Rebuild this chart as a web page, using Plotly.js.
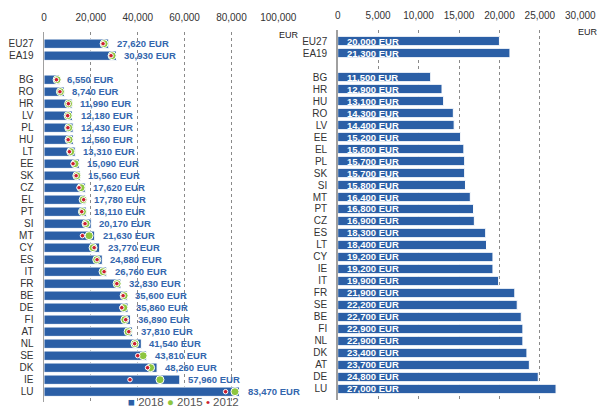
<!DOCTYPE html>
<html>
<head>
<meta charset="utf-8">
<script src="https://cdn.plot.ly/plotly-3.0.1.min.js"></script>
<style>html,body{margin:0;padding:0;background:#fff;}#chart{width:597px;height:410px;}</style>
</head>
<body>
<div id="chart"></div>
<script>
// ---- Left panel data ----
var leftCats = ['EU27','EA19','BG','RO','HR','LV','PL','HU','LT','EE','SK','CZ','EL','PT','SI','MT','CY','ES','IT','FR','BE','DE','FI','AT','NL','SE','DK','IE','LU'];
var left2018 = [27620,30930,6550,8740,11990,12180,12430,12560,13310,15090,15560,17620,17780,18110,20170,21630,23770,24880,26760,32830,35600,35860,36890,37810,41540,43810,48260,57960,83470];
var left2015 = [25650,29060,5600,7000,10500,10300,10550,10700,11400,13250,14000,15800,16700,16400,17950,19250,20950,22500,25200,31200,34200,34050,34500,35900,38800,42300,45500,49500,81500];
var left2012 = [25200,28600,5300,6800,10400,10100,10200,10300,10850,12400,13700,14950,16950,16100,17500,16400,21400,22650,25650,31100,33750,33200,34900,36200,38700,40000,44200,36700,77500];
var leftTicks = [0,20000,40000,60000,80000,100000];

// ---- Right panel data ----
var rightCats = ['EU27','EA19','BG','HR','HU','RO','LV','EE','EL','PL','SK','SI','MT','PT','CZ','ES','LT','CY','IE','IT','FR','SE','BE','FI','NL','DK','AT','DE','LU'];
var rightVals = [20000,21300,11500,12900,13100,14300,14400,15200,15600,15700,15700,15800,16400,16800,16900,18300,18400,19200,19200,19900,21900,22200,22700,22900,22900,23400,23700,24800,27000];
var rightTicks = [0,5000,10000,15000,20000,25000,30000];

var legendNames = ['2018','2015','2012'];
var unit = 'EUR';

// ---- styling ----
var BLUE = '#2b5fa6', LBLUE = '#3366ad', GREEN = '#8dc63f', RED = '#cc1f2f';
var FONT = 'Liberation Sans, Arial, sans-serif';

function pos(cats){ return cats.map(function(c,i){ return i < 2 ? i : i + 1; }); }
function fmt(v){ return v.toLocaleString('en-US') + ' ' + unit; }

var yL = pos(leftCats), yR = pos(rightCats);

var traces = [
  {type:'bar', orientation:'h', x:left2018, y:yL, xaxis:'x', yaxis:'y', width:0.78,
   marker:{color:BLUE, line:{color:'#ffffff', width:1}}, name:legendNames[0], showlegend:false},
  {type:'scatter', mode:'markers', x:left2015, y:yL, xaxis:'x', yaxis:'y',
   marker:{color:GREEN, size:8, line:{color:'#ffffff', width:1}}, name:legendNames[1], showlegend:false},
  {type:'scatter', mode:'markers', x:left2012, y:yL, xaxis:'x', yaxis:'y',
   marker:{color:RED, size:4.5, line:{color:'#ffffff', width:1}}, name:legendNames[2], showlegend:false},
  {type:'bar', orientation:'h', x:rightVals, y:yR, xaxis:'x2', yaxis:'y2', width:0.78,
   marker:{color:BLUE, line:{color:'#ffffff', width:1}}, showlegend:false}
];

var annotations = [];
left2018.forEach(function(v,i){
  annotations.push({x:v, y:yL[i], xref:'x', yref:'y', text:fmt(v), showarrow:false,
    xanchor:'left', yanchor:'middle', xshift:6, font:{family:FONT, size:9.5, color:LBLUE, weight:'bold'}});
});
rightVals.forEach(function(v,i){
  annotations.push({x:0, y:yR[i], xref:'x2', yref:'y2', text:fmt(v), showarrow:false,
    xanchor:'left', yanchor:'middle', xshift:7, font:{family:FONT, size:9.5, color:'#ffffff', weight:'bold'}});
});
annotations.push({x:leftTicks[leftTicks.length-1], y:0.915, xref:'x', yref:'paper', text:unit, showarrow:false,
  xanchor:'left', yanchor:'middle', xshift:-1, font:{family:FONT, size:9, color:'#222'}});
annotations.push({x:rightTicks[rightTicks.length-1], y:0.921, xref:'x2', yref:'paper', text:unit, showarrow:false,
  xanchor:'left', yanchor:'middle', xshift:-4, font:{family:FONT, size:9, color:'#222'}});
annotations.push({x:0.308, y:0.001, xref:'paper', yref:'paper', showarrow:false, xanchor:'center', yanchor:'bottom',
  text:'<span style="color:'+BLUE+'">■</span> '+legendNames[0]+' <span style="color:'+GREEN+'">●</span> '+legendNames[1]+' <span style="color:'+RED+'">•</span> '+legendNames[2],
  font:{family:FONT, size:11.5, color:'#555'}});

var xBase = {side:'top', showgrid:true, gridcolor:'#8a8a8a', griddash:'3px,3px', gridwidth:1,
  zeroline:false, showline:false, ticks:'outside', ticklen:6, tickcolor:'rgba(0,0,0,0)',
  tickfont:{family:FONT, size:10, color:'#333'}, tickformat:',d', fixedrange:true};
var yBase = {autorange:false, range:[29.9,-0.95], showgrid:false, zeroline:false, showline:true,
  linecolor:'#a0a0a0', linewidth:1.5, ticks:'outside', ticklen:7, tickcolor:'rgba(0,0,0,0)',
  tickfont:{family:FONT, size:10, color:'#333'}, fixedrange:true};

var layout = {
  width:597, height:410, margin:{l:0,r:0,t:0,b:0}, paper_bgcolor:'#fff', plot_bgcolor:'rgba(0,0,0,0)',
  showlegend:false, bargap:0,
  xaxis:Object.assign({}, xBase, {domain:[44/597, 278.3/597], range:[0,100000], tickvals:leftTicks, anchor:'y'}),
  yaxis:Object.assign({}, yBase, {domain:[0.0183, 0.9212], tickvals:yL, ticktext:leftCats, anchor:'x'}),
  xaxis2:Object.assign({}, xBase, {domain:[337.7/597, 580.3/597], range:[0,30000], tickvals:rightTicks, anchor:'y2'}),
  yaxis2:Object.assign({}, yBase, {domain:[0.0249, 0.9278], tickvals:yR, ticktext:rightCats, anchor:'x2'}),
  annotations:annotations
};

Plotly.newPlot('chart', traces, layout, {staticPlot:true, displayModeBar:false});
</script>
</body>
</html>
